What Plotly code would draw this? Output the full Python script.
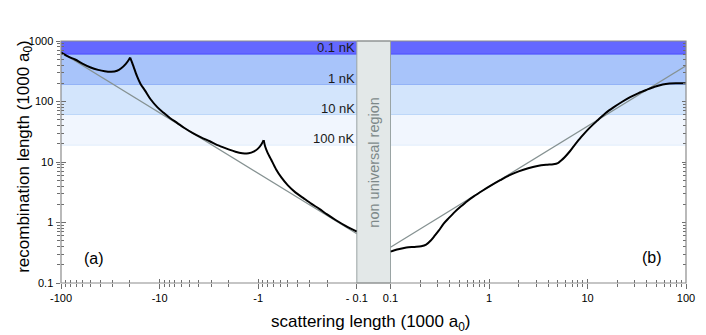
import numpy as np
import plotly.graph_objects as go

# ---------------- data ----------------
# left branch (negative scattering length, 1000 a0)
a_neg = [-100, -85, -72, -60, -50, -42, -36, -31, -27, -24.5, -22, -20.5, -19.9,
         -19, -18.2, -17, -15.6, -14, -12.4, -10.5, -9.1, -7.8, -6.6, -5.6, -4.6,
         -3.8, -3.1, -2.5, -2.0, -1.7, -1.45, -1.25, -1.1, -1.0, -0.93, -0.88,
         -0.85, -0.8, -0.74, -0.66, -0.58, -0.5, -0.42, -0.35, -0.29, -0.24, -0.2,
         -0.164, -0.13, -0.1]
L_neg = [650, 555, 495, 420, 365, 333, 316, 310, 322, 355, 420, 490, 533,
         440, 360, 265, 195, 150, 110, 80, 65, 53, 44, 36.5, 30,
         25.5, 22, 18.6, 16.2, 14.8, 14.0, 13.9, 15, 16.8, 19.5, 23,
         18, 14, 11, 7.6, 5.5, 4.1, 3.15, 2.55, 2.05, 1.68, 1.36,
         1.1, 0.88, 0.71]

# right branch (positive scattering length)
a_pos = [0.1, 0.12, 0.145, 0.175, 0.205, 0.23, 0.255, 0.28, 0.31, 0.345, 0.39, 0.45,
         0.52, 0.6, 0.7, 0.865, 1.05, 1.3, 1.6, 2.0, 2.5, 3.1, 3.8, 4.5, 5.0, 5.4,
         5.86, 6.5, 7.3, 8.6, 10.2, 12.6, 15.2, 18.5, 22.5, 27.1, 33, 39.8, 48, 58,
         68, 79, 100]
L_pos = [0.33, 0.36, 0.385, 0.395, 0.405, 0.43, 0.5, 0.6, 0.74, 0.95, 1.18, 1.5,
         1.85, 2.25, 2.7, 3.38, 4.1, 5.0, 6.0, 7.0, 7.9, 8.6, 9.0, 9.2, 9.6, 10.6,
         12.0, 14.5, 18.5, 25.7, 35, 48.5, 64, 80.5, 99, 118, 138, 156, 175, 191,
         198, 200, 200]

# universal asymptotes
asym_neg_a = [-100, -0.1]
asym_neg_L = [650, 0.65]
asym_pos_a = [0.1, 100]
asym_pos_L = [0.39, 390]

# temperature bands (recombination-length ranges)
band_labels = ["0.1 nK", "1 nK", "10 nK", "100 nK"]
band_low = [600, 190, 60, 19]
band_high = [1000, 600, 190, 60]
band_fill = ["#6468ff", "#a8c4fa", "#d3e5fc", "#f1f6fe"]
band_edge = ["#3a3aff", "#7ea2f6", "#b6d2f8", "#e6effc"]

# ticks
y_ticks = [0.1, 1, 10, 100, 1000]
y_ticktext = ["0.1", "1", "10", "100", "1000"]
xl_ticks = [100, 10, 1, 0.1]
xl_ticktext = ["-100", "-10", "-1", "- 0.1"]
xr_ticks = [0.1, 1, 10, 100]
xr_ticktext = ["0.1", "1", "10", "100"]
minor_x = [m * d for d in (0.1, 1, 10) for m in range(2, 10)]
minor_y = [m * d for d in (0.1, 1, 10, 100) for m in range(2, 10)]

FONT = "Arial, Liberation Sans, sans-serif"
AX = "#6e6e6e"
XL_DOM = [0, 0.4733]
XR_DOM = [0.5272, 1]

fig = go.Figure()

fig.add_trace(go.Scatter(x=np.abs(asym_neg_a), y=asym_neg_L, mode="lines",
                         line=dict(color="#869292", width=1.3), xaxis="x", yaxis="y",
                         showlegend=False, hoverinfo="skip"))
fig.add_trace(go.Scatter(x=asym_pos_a, y=asym_pos_L, mode="lines",
                         line=dict(color="#869292", width=1.3), xaxis="x2", yaxis="y",
                         showlegend=False, hoverinfo="skip"))


def add_curve(xs, ys, xa, smoothing):
    """draw a curve, split at its cusps (local maxima) so the cusps stay sharp"""
    xs = np.abs(np.asarray(xs, float))
    ys = np.asarray(ys, float)
    cut = [0] + [i for i in range(1, len(ys) - 1) if ys[i] > ys[i - 1] and ys[i] > ys[i + 1]] + [len(ys) - 1]
    for s, e in zip(cut[:-1], cut[1:]):
        fig.add_trace(go.Scatter(x=xs[s:e + 1], y=ys[s:e + 1], mode="lines",
                                 line=dict(color="black", width=2, shape="spline",
                                           smoothing=smoothing),
                                 xaxis=xa, yaxis="y", showlegend=False))


add_curve(a_neg, L_neg, "x", 0.8)
add_curve(a_pos, L_pos, "x2", 0.8)

# invisible helpers so overlay axes (inner tick halves) are drawn
for xa, ya in (("x3", "y"), ("x4", "y"), ("x", "y2"), ("x2", "y3")):
    fig.add_trace(go.Scatter(x=[1], y=[1], mode="markers", marker=dict(opacity=0),
                             xaxis=xa, yaxis=ya, showlegend=False, hoverinfo="skip"))

shapes = []
for lo, hi, fc, ec in zip(band_low, band_high, band_fill, band_edge):
    shapes.append(dict(type="rect", xref="paper", yref="y", x0=0, x1=1, y0=lo, y1=hi,
                       fillcolor=fc, line=dict(width=0), layer="below"))
    shapes.append(dict(type="line", xref="paper", yref="y", x0=0, x1=1, y0=lo, y1=lo,
                       line=dict(color=ec, width=1.2), layer="below"))
shapes.append(dict(type="rect", xref="paper", yref="paper", x0=XL_DOM[1], x1=XR_DOM[0],
                   y0=0, y1=1, fillcolor="#e3e8e8", line=dict(color="#9aa4a4", width=1),
                   layer="below"))
shapes.append(dict(type="rect", xref="paper", yref="paper", x0=0, x1=1, y0=0, y1=1,
                   line=dict(color="#8c8c8c", width=1.2), layer="above"))

annotations = []
for lab, lo in zip(band_labels, band_low):
    annotations.append(dict(text=lab, xref="paper", yref="y", x=XL_DOM[1], y=np.log10(lo),
                            xanchor="right", yanchor="bottom", yshift=-3, showarrow=False,
                            font=dict(family=FONT, size=13, color="#1a1a1a")))
annotations += [
    dict(text="non universal region", xref="paper", yref="paper", x=(XL_DOM[1] + XR_DOM[0]) / 2,
         y=0.5, textangle=-90, showarrow=False,
         font=dict(family=FONT, size=14.5, color="#7d8888")),
    dict(text="(a)", xref="paper", yref="paper", x=0.033, y=0.058, showarrow=False,
         font=dict(family=FONT, size=16, color="black")),
    dict(text="(b)", xref="paper", yref="paper", x=0.964, y=0.062, showarrow=False,
         font=dict(family=FONT, size=16, color="black")),
    dict(text="scattering length (1000 a<sub>0</sub>)", xref="paper", yref="paper",
         x=0.495, y=-0.165, yanchor="middle", showarrow=False,
         font=dict(family=FONT, size=17, color="black")),
    dict(text="recombination length (1000 a<sub>0</sub>)", xref="paper", yref="paper",
         x=-0.0786, y=0.525, textangle=-90, showarrow=False,
         font=dict(family=FONT, size=17, color="black")),
]


def xax(dom, rng, tv, tt, ticks, labels, overlay=None):
    d = dict(type="log", range=rng, tickmode="array", tickvals=tv, ticktext=tt,
             ticks=ticks, ticklen=4.5, tickwidth=1, tickcolor=AX,
             showticklabels=labels, showgrid=False, zeroline=False, showline=False,
             anchor="y", tickfont=dict(family=FONT, size=11, color="black"),
             minor=dict(ticks=ticks, ticklen=3, tickwidth=1, tickcolor=AX,
                        tickmode="array", tickvals=minor_x, showgrid=False))
    if overlay:
        d["overlaying"] = overlay
    else:
        d["domain"] = dom
    return d


def yax(ticks, labels, anchor, side="left", overlay=None):
    d = dict(type="log", range=[-1, 3], tickmode="array", tickvals=y_ticks, ticktext=y_ticktext,
             ticks=ticks, ticklen=4.5, tickwidth=1, tickcolor=AX, side=side,
             showticklabels=labels, showgrid=False, zeroline=False, showline=False,
             anchor=anchor, tickfont=dict(family=FONT, size=11, color="black"),
             minor=dict(ticks=ticks, ticklen=3, tickwidth=1, tickcolor=AX,
                        tickmode="array", tickvals=minor_y, showgrid=False))
    if overlay:
        d["overlaying"] = overlay
    return d


fig.update_layout(
    width=706, height=335,
    margin=dict(l=61, r=9, t=41, b=52),
    paper_bgcolor="white", plot_bgcolor="white",
    xaxis=xax(XL_DOM, [2, -1], xl_ticks, xl_ticktext, "outside", True),
    xaxis2=xax(XR_DOM, [-1, 2], xr_ticks, xr_ticktext, "outside", True),
    xaxis3=xax(XL_DOM, [2, -1], xl_ticks, xl_ticktext, "inside", False, overlay="x"),
    xaxis4=xax(XR_DOM, [-1, 2], xr_ticks, xr_ticktext, "inside", False, overlay="x2"),
    yaxis=yax("outside", True, "x"),
    yaxis2=yax("inside", False, "x", overlay="y"),
    yaxis3=yax("inside", False, "x2", side="right", overlay="y"),
    shapes=shapes, annotations=annotations, showlegend=False,
)

fig.write_html("out.html", config={"displayModeBar": False},
               post_script="document.body.style.margin='0';")
